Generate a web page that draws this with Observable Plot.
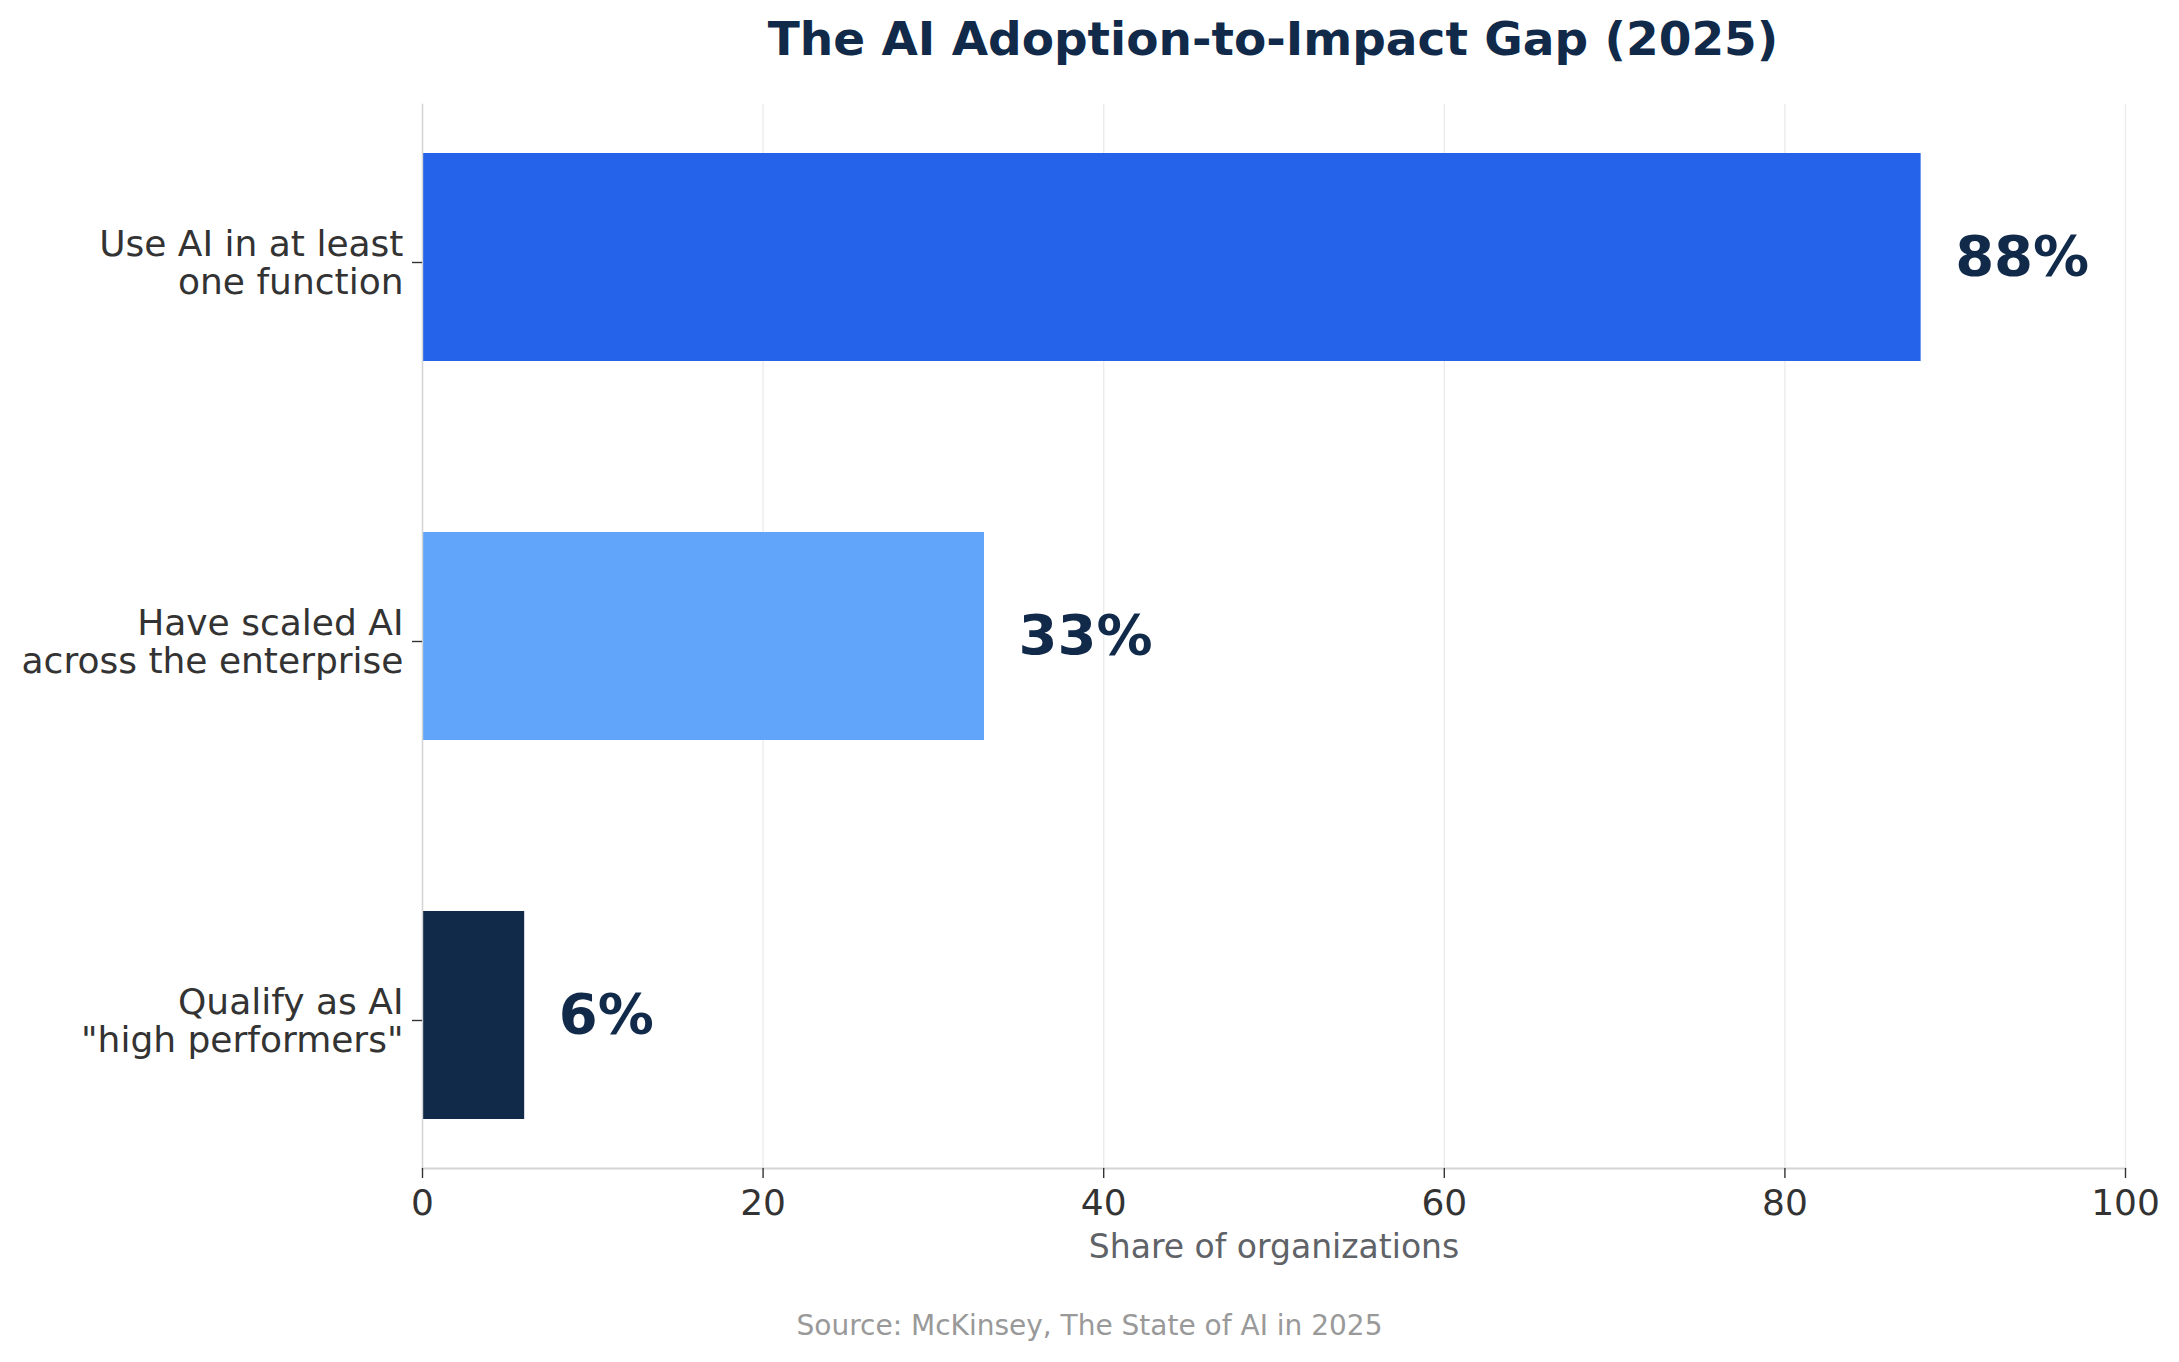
<!DOCTYPE html>
<html>
<head>
<meta charset="utf-8">
<script src="https://cdn.jsdelivr.net/npm/d3@7"></script>
<script src="https://cdn.jsdelivr.net/npm/@observablehq/plot@0.6"></script>
<style>
  html, body { margin: 0; padding: 0; background: #ffffff; }
  body { width: 2179px; height: 1362px; overflow: hidden; font-family: "DejaVu Sans", sans-serif; }
  #title { height: 78px; line-height: 78px; font-size: 47px; font-weight: bold; color: #112A4A;
           text-align: center; padding-left: 367px; white-space: nowrap; box-sizing: border-box; width: 2179px; }
  #source { height: 72px; line-height: 72px; font-size: 28px; color: #999999; text-align: center; width: 2179px; }
  #chart svg { display: block; }
</style>
</head>
<body>
<div id="title">The AI Adoption-to-Impact Gap (2025)</div>
<div id="chart"></div>
<div id="source">Source: McKinsey, The State of AI in 2025</div>
<script>
const categories = [
  "Use AI in at least\none function",
  "Have scaled AI\nacross the enterprise",
  "Qualify as AI\n\"high performers\""
];
const values = [88, 33, 6];
const colors = ["#2563EB", "#60A5FA", "#112A4A"];
const xTicks = [0, 20, 40, 60, 80, 100];
const xLabel = "Share of organizations";

const data = categories.map((c, i) => ({category: c, value: values[i], color: colors[i]}));

const chart = Plot.plot({
  width: 2179,
  height: 1212,
  marginTop: 26,
  marginBottom: 122,
  marginLeft: 422,
  marginRight: 54,
  style: {fontFamily: "DejaVu Sans", background: "#ffffff"},
  x: {domain: [0, 100], ticks: xTicks},
  y: {domain: categories, paddingInner: 0.45, paddingOuter: 0.127},
  marks: [
    Plot.gridX(xTicks, {stroke: "#ebebeb", strokeOpacity: 1, strokeWidth: 1.4}),
    Plot.barX(data, {y: "category", x: "value", fill: "color"}),
    Plot.frame({anchor: "left", stroke: "#d4d4d4", strokeWidth: 1.4}),
    Plot.frame({anchor: "bottom", stroke: "#d4d4d4", strokeWidth: 2}),
    Plot.axisX(xTicks, {
      tickSize: 10, tickPadding: 11, fontSize: 36, fill: "#333333", stroke: "#333333",
      strokeWidth: 1.4, label: null, tickFormat: d => String(d)
    }),
    Plot.axisY({
      tickSize: 10, tickPadding: 9, fontSize: 36, fill: "#333333", stroke: "#333333",
      strokeWidth: 1.4, label: null, lineHeight: 1.08, dy: 5
    }),
    Plot.text([xLabel], {
      frameAnchor: "bottom", dy: 79, lineAnchor: "middle", text: d => d,
      fontSize: 33, fill: "#5f6368"
    }),
    Plot.text(data, {
      y: "category", x: "value", text: d => d.value + "%", dx: 34,
      textAnchor: "start", lineAnchor: "middle", fontSize: 56, fontWeight: "bold", fill: "#112A4A"
    })
  ]
});
document.getElementById("chart").appendChild(chart);
</script>
</body>
</html>
